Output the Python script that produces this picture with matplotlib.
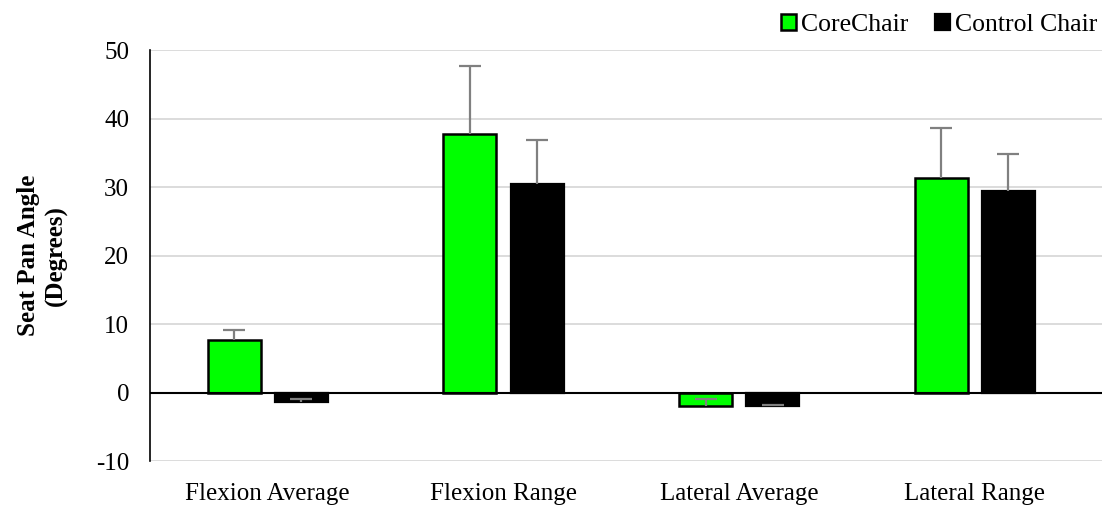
import numpy as np
import matplotlib.pyplot as plt

plt.rcParams['font.family'] = ['Liberation Serif', 'DejaVu Serif']
plt.rcParams['axes.unicode_minus'] = False

categories = ["Flexion Average", "Flexion Range", "Lateral Average", "Lateral Range"]
core = [7.6, 37.8, -1.9, 31.3]
core_err = [1.5, 9.9, 0.9, 7.3]
control = [-1.4, 30.4, -2.0, 29.4]
control_err = [0.4, 6.4, 0.2, 5.4]
yticks = [-10, 0, 10, 20, 30, 40, 50]

fig = plt.figure(figsize=(11.02, 5.08), dpi=100)
ax = fig.add_axes([0.1361, 0.0925, 0.8639, 0.809])

x = np.arange(len(categories))
w = 0.225
off = 0.1425
zeros = np.zeros(len(categories))

ax.bar(x - off, core, w, color='#00FF00', edgecolor='black', linewidth=1.8,
       label='CoreChair', zorder=3)
ax.bar(x + off, control, w, color='black', edgecolor='black', linewidth=1.6,
       label='Control Chair', zorder=3)

# only the upper half of each error bar is drawn, as in Excel "Plus"
for xs, vals, errs in [(x - off, core, core_err), (x + off, control, control_err)]:
    eb = ax.errorbar(xs, vals, yerr=[zeros, errs], fmt='none', ecolor='#808080',
                     elinewidth=1.6, capsize=8, capthick=1.6, zorder=5)
    eb.lines[1][0].set_visible(False)

ax.set_ylim(-10, 50)
ax.set_yticks(yticks)
ax.set_xlim(-0.5, 3.54)
ax.set_xticks(x)
ax.set_xticklabels(categories)
ax.grid(axis='y', color='#D9D9D9', linewidth=1.3, zorder=0)
ax.axhline(0, color='black', linewidth=1.5, zorder=4)
for s in ['top', 'right', 'bottom']:
    ax.spines[s].set_visible(False)
ax.spines['left'].set_color('black')
ax.spines['left'].set_linewidth(1.2)
ax.tick_params(axis='both', length=0, labelsize=18)
ax.tick_params(axis='y', pad=15)
ax.tick_params(axis='x', pad=16)
ax.set_ylabel("Seat Pan Angle\n(Degrees)", fontsize=18, fontweight='bold', labelpad=20,
              linespacing=1.25)

ax.legend(loc='lower right', bbox_to_anchor=(1.006, 1.0085), ncol=2, frameon=False, fontsize=18.5,
          handlelength=0.6, handleheight=0.6, handletextpad=0.2, columnspacing=1.0,
          borderaxespad=0)

fig.savefig('out.png', dpi=100)
